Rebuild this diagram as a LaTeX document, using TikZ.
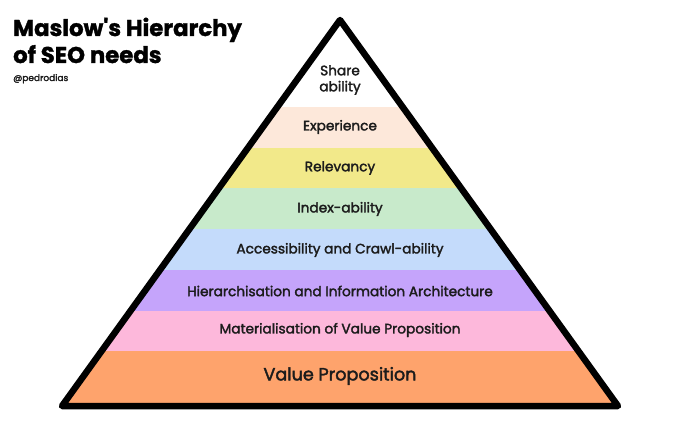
\documentclass[tikz,border=0pt]{standalone}
\usepackage{fontspec}
\setmainfont{Poppins}
\newfontfamily\layerfont{Poppins}[FakeBold=2.2]
\newfontfamily\titlefont{Poppins Bold}[FakeBold=1.5]

\definecolor{inkcol}{HTML}{1C1C1C}
\definecolor{expcol}{HTML}{FDE8DA}
\definecolor{relcol}{HTML}{F2E98A}
\definecolor{idxcol}{HTML}{C8EACB}
\definecolor{acccol}{HTML}{C4DBFB}
\definecolor{hiercol}{HTML}{C5A4FB}
\definecolor{matcol}{HTML}{FDB8DB}
\definecolor{valcol}{HTML}{FEA36C}

\tikzset{
  layer/.style={text=inkcol, font=\layerfont\fontsize{13.7}{16}\selectfont, align=center, inner sep=0pt},
  bigtitle/.style={anchor=base west, font=\titlefont\fontsize{22.8}{24}\selectfont, text=black, inner sep=0pt}
}

\begin{document}
\begin{tikzpicture}[x=1pt,y=-1pt]

\newcommand\BH{40.7}
\newcommand\TOP{107}

\useasboundingbox (0,0) rectangle (680,425);
\fill[white] (0,0) rectangle (680,425);

%% bands
\begin{scope}
\clip (340,20) -- (618,406) -- (62,406) -- cycle;
\fill[expcol]  (0,\TOP+0*\BH) rectangle (680,\TOP+1*\BH);
\fill[relcol]  (0,\TOP+1*\BH) rectangle (680,\TOP+2*\BH);
\fill[idxcol]  (0,\TOP+2*\BH) rectangle (680,\TOP+3*\BH);
\fill[acccol]  (0,\TOP+3*\BH) rectangle (680,\TOP+4*\BH);
\fill[hiercol] (0,\TOP+4*\BH) rectangle (680,\TOP+5*\BH);
\fill[matcol]  (0,\TOP+5*\BH) rectangle (680,\TOP+6*\BH);
\fill[valcol]  (0,\TOP+6*\BH) rectangle (680,410);
\end{scope}

\draw[line width=6.5pt, line join=round] (340,20) -- (618,406) -- (62,406) -- cycle;

%% labels
\node[layer] (share) at (340,80) {Share\\ability};
\node[layer] (exp)  at (340,127) {Experience};
\node[layer] (rel)  at (340,168) {Relevancy};
\node[layer] (idx)  at (340,209) {Index-ability};
\node[layer] (acc)  at (340,250) {Accessibility and Crawl-ability};
\node[layer] (hier) at (340,291) {Hierarchisation and Information Architecture};
\node[layer] (mat)  at (340,330) {Materialisation of Value Proposition};
\node[layer, font=\layerfont\fontsize{17.6}{19}\selectfont] (val) at (340,376) {Value Proposition};

%% title
\node[bigtitle] (title1) at (13,36) {Maslow\textquotesingle s Hierarchy};
\node[bigtitle] (title2) at (13,63) {of SEO needs};
\node[anchor=base west, inner sep=0pt, font=\layerfont\fontsize{9}{10}\selectfont, text=inkcol] (handle) at (13,81) {@pedrodias};

\end{tikzpicture}
\end{document}
